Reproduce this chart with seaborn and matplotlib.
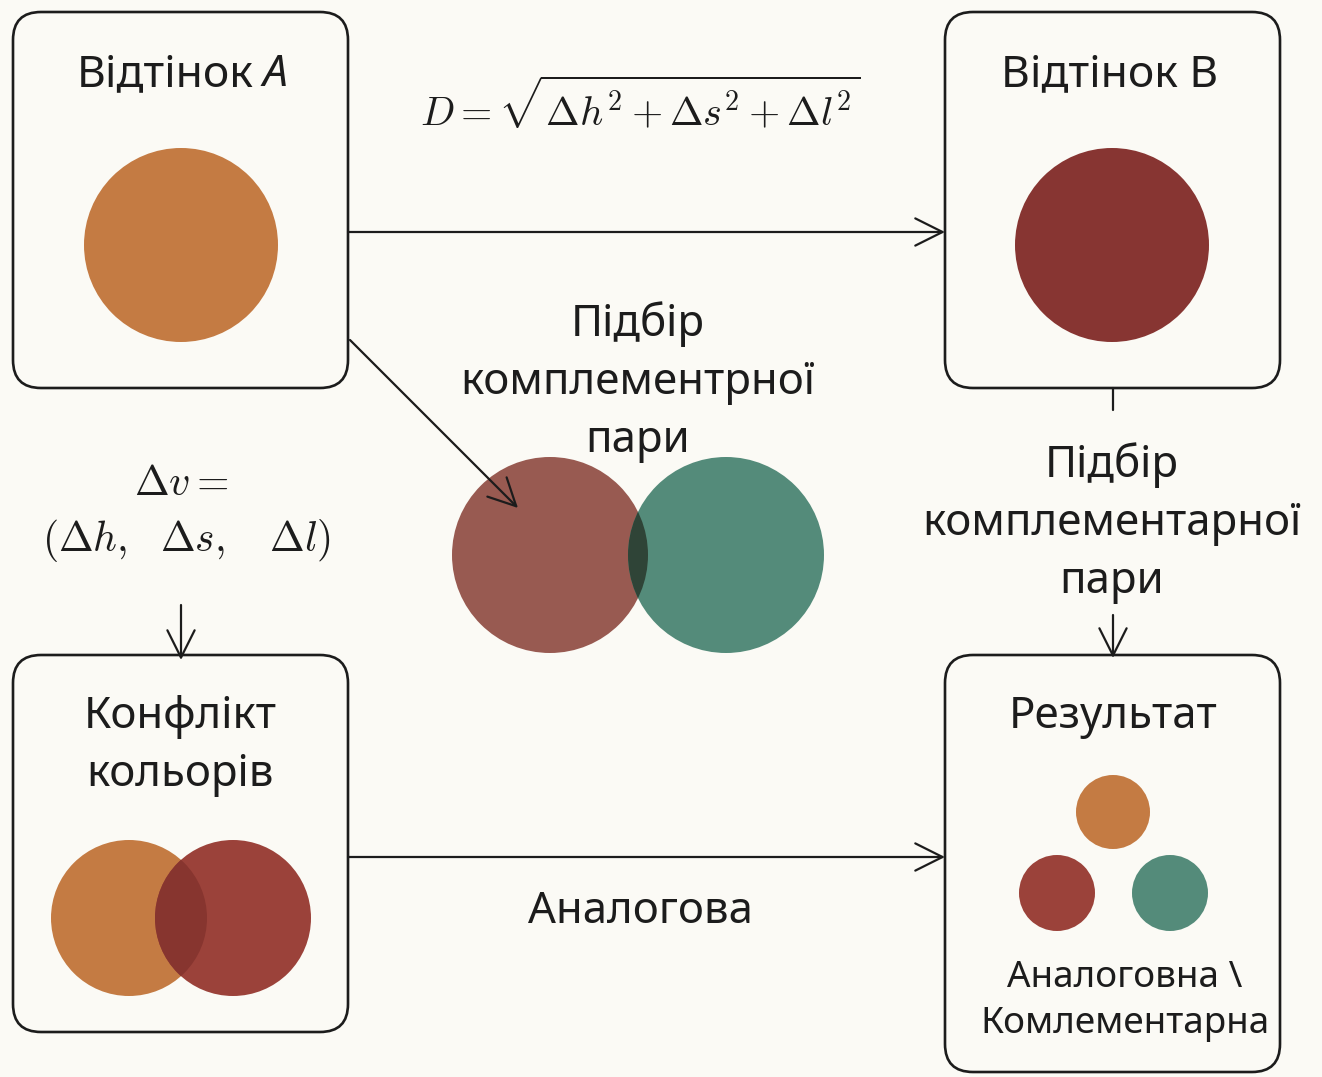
import matplotlib
matplotlib.use("Agg")
import matplotlib.pyplot as plt
import seaborn as sns
from matplotlib.patches import FancyBboxPatch, Circle, FancyArrowPatch

sns.set_theme(style="white")
plt.rcParams['font.family'] = ['Noto Sans', 'DejaVu Sans']
plt.rcParams['mathtext.fontset'] = 'cm'

bg = '#fbfaf5'
ink = '#1c1c1c'

# boxes: left, top, width, height (pixel space)
box_x = [13, 945, 13, 945]
box_y = [12, 12, 655, 655]
box_w = [335, 335, 335, 335]
box_h = [376, 376, 377, 417]

# circles
circ_x = [181, 1112, 550, 726, 129, 233, 1113, 1057, 1170]
circ_y = [245, 245, 555, 555, 918, 918, 812, 893, 893]
circ_r = [97, 97, 98, 98, 78, 78, 37, 38, 38]
circ_c = ['#c47b43', '#873532', '#985a51', '#548b7a',
          '#c47b43', '#9b423a', '#c47b43', '#9b423a', '#548b7a']

# overlaps: (circle a, circle b, colour)
overlaps = [(2, 3, '#2f4437'), (4, 5, '#87352f')]

# arrows: x0, y0, x1, y1
arr_x0 = [348, 350, 181, 1113, 348]
arr_y0 = [232, 340, 605, 615, 857]
arr_x1 = [945, 518, 181, 1113, 945]
arr_y1 = [232, 508, 660, 658, 857]

labels = [
    ('Підбір\nкомплементрної\nпари', 638, 382),
    ('Підбір\nкомплементарної\nпари', 1112, 523),
    ('Конфлікт\nкольорів', 180, 746),
    ('Результат', 1113, 717),
    ('Аналогова', 640, 912),
]
small_label = ('Аналоговна \\\nКомлементарна', 1125, 1001)

fig = plt.figure(figsize=(13.22, 10.77), dpi=100)
fig.patch.set_facecolor(bg)
ax = fig.add_axes([0, 0, 1, 1])
ax.set_facecolor(bg)
ax.set_xlim(0, 1322)
ax.set_ylim(1077, 0)
ax.axis('off')

for x, y, w, h in zip(box_x, box_y, box_w, box_h):
    ax.add_patch(FancyBboxPatch((x, y), w, h, boxstyle='round,pad=0,rounding_size=28',
                                fc='none', ec=ink, lw=1.9, zorder=2))

circles = []
for x, y, r, c in zip(circ_x, circ_y, circ_r, circ_c):
    p = Circle((x, y), r, fc=c, ec='none', zorder=3)
    ax.add_patch(p)
    circles.append(p)

for a, b, c in overlaps:
    lens = Circle((circ_x[a], circ_y[a]), circ_r[a], fc=c, ec='none', zorder=4)
    ax.add_patch(lens)
    lens.set_clip_path(circles[b])

for x0, y0, x1, y1 in zip(arr_x0, arr_y0, arr_x1, arr_y1):
    ax.add_patch(FancyArrowPatch((x0, y0), (x1, y1), arrowstyle='->,head_length=1.4,head_width=0.7',
                                 mutation_scale=14, color=ink, lw=1.6, shrinkA=0, shrinkB=0, zorder=5))
ax.plot([1113, 1113], [388, 410], color=ink, lw=1.6)

ax.text(254, 75, 'Відтінок', ha='right', va='center', fontsize=32, color=ink)
ax.text(263, 75, 'A', ha='left', va='center', fontsize=32, color=ink, style='italic')
ax.text(1110, 75, 'Відтінок B', ha='center', va='center', fontsize=32, color=ink)

for s, x, y in labels:
    ax.text(x, y, s, ha='center', va='center', fontsize=31.5, color=ink, linespacing=1.42)
s, x, y = small_label
ax.text(x, y, s, ha='center', va='center', fontsize=26.5, color=ink, linespacing=1.4)

ax.text(640, 107, r'$D = \sqrt{\Delta h^2 + \Delta s^2 + \Delta l^2}$', ha='center', va='center',
        fontsize=29, color=ink)
ax.text(181, 484, r'$\Delta v =$', ha='center', va='center', fontsize=30, color=ink)
ax.text(186, 540, r'$(\Delta h,\ \ \Delta s,\ \ \ \Delta l)$', ha='center', va='center',
        fontsize=30, color=ink)

fig.savefig('out.png', dpi=100, facecolor=bg)
